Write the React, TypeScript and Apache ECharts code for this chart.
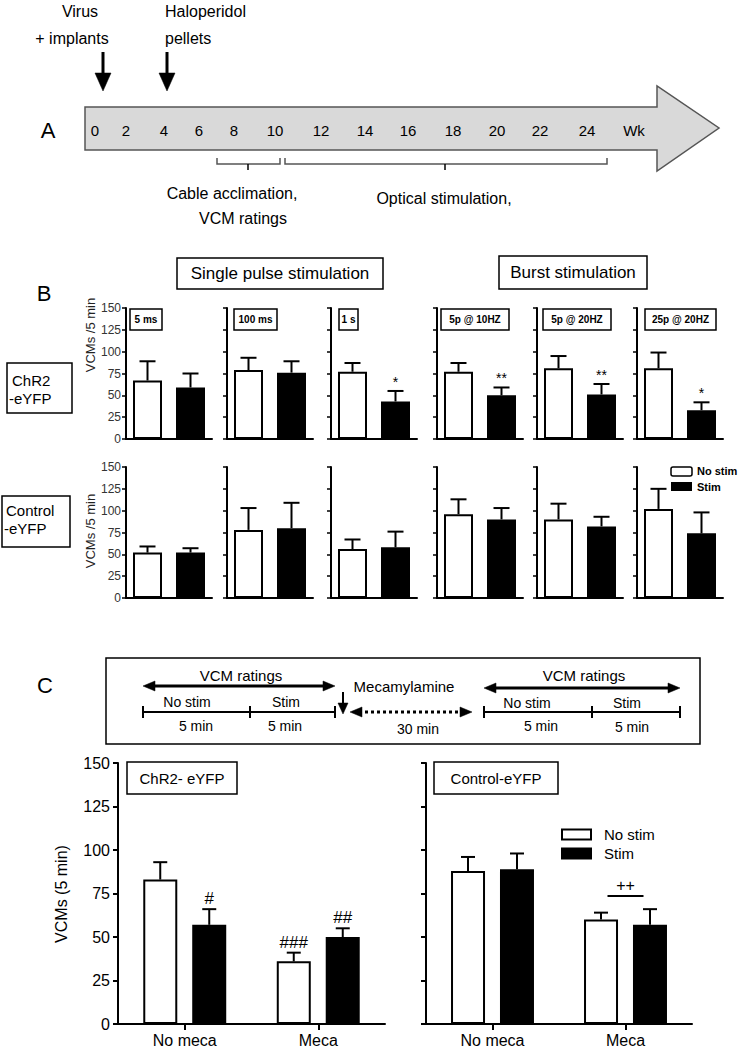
import React, { useEffect, useRef } from 'react';
import * as echarts from 'echarts';

const FONT = 'Arial, "Liberation Sans", sans-serif';

// ---------- Panel A: timeline ----------
const weekLabels = ['0', '2', '4', '6', '8', '10', '12', '14', '16', '18', '20', '22', '24', 'Wk'];
const weekLabelX = [95, 126, 164, 199, 234, 275, 321, 365, 408, 453, 497, 540, 587, 634];

// ---------- Panel B ----------
const stimCategories = ['No stim', 'Stim'];
const bPanelTitles = ['5 ms', '100 ms', '1 s', '5p @ 10HZ', '5p @ 20HZ', '25p @ 20HZ'];
const chr2Means = [[67, 59], [79, 76], [77, 43], [77, 50], [81, 51], [81, 33]];
const chr2Errs = [[22, 16], [14, 13], [10, 12], [10, 9], [14, 12], [18, 9]];
const chr2Sig = [['', ''], ['', ''], ['', '*'], ['', '**'], ['', '**'], ['', '*']];
const ctrlMeans = [[52, 52], [78, 80], [56, 58], [96, 90], [90, 82], [102, 74]];
const ctrlErrs = [[7, 5], [25, 29], [11, 18], [17, 13], [18, 11], [23, 24]];
const ctrlSig = [['', ''], ['', ''], ['', ''], ['', ''], ['', ''], ['', '']];
const yMin = 0;
const yMax = 150;
const yStep = 25;

// ---------- Panel C ----------
const mecaGroups = ['No meca', 'Meca'];
const cChr2NoStim = [83, 36];
const cChr2NoStimErr = [10, 5];
const cChr2NoStimSig = ['', '###'];
const cChr2Stim = [57, 50];
const cChr2StimErr = [9, 5];
const cChr2StimSig = ['#', '##'];
const cCtrlNoStim = [88, 60];
const cCtrlNoStimErr = [8, 4];
const cCtrlStim = [89, 57];
const cCtrlStimErr = [9, 9];
const cCtrlPairSig = '++';
const cCtrlPairSigLevel = 73.5;

// ---------- layout ----------
const bLefts = [126, 227, 331, 437, 537, 637];
const bTops = [308, 467];
const bW = 86;
const bH = 131;
const cGrids = [
  { left: 118, top: 763, width: 267, height: 261 },
  { left: 426, top: 763, width: 266, height: 261 },
];

function errRender(offset: number, cap: number, labels: string[], fontSize: number, lw: number) {
  return (params: any, api: any) => {
    const c = api.value(0);
    const v = api.value(1);
    const e = api.value(2);
    const base = api.coord([c, v]);
    const top = api.coord([c, v + e]);
    const x = base[0] + offset;
    const children: any[] = [
      { type: 'line', shape: { x1: x, y1: base[1], x2: x, y2: top[1] }, style: { stroke: '#000', lineWidth: lw } },
      { type: 'line', shape: { x1: x - cap / 2, y1: top[1], x2: x + cap / 2, y2: top[1] }, style: { stroke: '#000', lineWidth: lw } },
    ];
    const lab = labels[params.dataIndex];
    if (lab) {
      children.push({
        type: 'text', x, y: top[1] - 2,
        style: { text: lab, fill: '#000', fontSize, fontFamily: FONT, align: 'center', verticalAlign: 'bottom', textAlign: 'center', textVerticalAlign: 'bottom' },
      });
    }
    return { type: 'group', children };
  };
}

function txt(text: string, x: number, y: number, fontSize: number, align = 'center', extra: any = {}) {
  return {
    type: 'text', x, y, z: 100, ...extra,
    style: {
      text, fontSize, fontFamily: FONT, fill: '#000',
      align, verticalAlign: 'middle', textAlign: align, textVerticalAlign: 'middle',
      ...(extra.style || {}),
    },
  };
}

function box(x: number, y: number, w: number, h: number, lw = 1.5) {
  return { type: 'rect', z: 99, shape: { x, y, width: w, height: h }, style: { fill: '#fff', stroke: '#000', lineWidth: lw } };
}

function line(x1: number, y1: number, x2: number, y2: number, lw = 2, dash?: number[]) {
  return { type: 'line', z: 100, shape: { x1, y1, x2, y2 }, style: { stroke: '#000', lineWidth: lw, lineDash: dash } };
}

function poly(points: number[][], fill = '#000') {
  return { type: 'polygon', z: 100, shape: { points }, style: { fill, stroke: fill, lineWidth: 0.5 } };
}

function dblArrow(x1: number, x2: number, y: number, dashed = false) {
  return [
    line(x1 + 9, y, x2 - 9, y, 3, dashed ? [3, 3] : undefined),
    poly([[x1, y], [x1 + 12, y - 5], [x1 + 12, y + 5]]),
    poly([[x2, y], [x2 - 12, y - 5], [x2 - 12, y + 5]]),
  ];
}

function buildGraphics() {
  const g: any[] = [];
  // Panel A
  g.push(txt('A', 48, 130, 22));
  g.push({
    type: 'polygon', z: 10,
    shape: { points: [[85, 107], [657, 107], [657, 86], [719, 128], [657, 171], [657, 150], [85, 150]] },
    style: { fill: '#d9d9d9', stroke: '#555', lineWidth: 1.5 },
  });
  weekLabels.forEach((w, i) => g.push(txt(w, weekLabelX[i], 130, 15)));
  g.push(txt('Virus', 80, 11, 16));
  g.push(txt('+ implants', 72, 38, 16));
  g.push(txt('Haloperidol', 165, 11, 16, 'left'));
  g.push(txt('pellets', 165, 38, 16, 'left'));
  [103, 167].forEach((x) => {
    g.push(line(x, 52, x, 76, 3));
    g.push(poly([[x - 8, 73], [x + 8, 73], [x, 91]]));
  });
  g.push({ type: 'polyline', z: 100, shape: { points: [[217, 158], [217, 164], [280, 164], [280, 158]] }, style: { stroke: '#555', lineWidth: 1.5, fill: 'none' } });
  g.push(line(248, 164, 248, 170, 1.5));
  g.push({ type: 'polyline', z: 100, shape: { points: [[285, 158], [285, 164], [607, 164], [607, 158]] }, style: { stroke: '#555', lineWidth: 1.5, fill: 'none' } });
  g.push(line(445, 164, 445, 170, 1.5));
  g.push(txt('Cable acclimation,', 232, 193, 16));
  g.push(txt('VCM ratings', 243, 218, 16));
  g.push(txt('Optical stimulation,', 444, 198, 16));

  // Panel B
  g.push(txt('B', 44, 293, 22));
  g.push(box(177, 258, 206, 31));
  g.push(txt('Single pulse stimulation', 280, 273, 17));
  g.push(box(499, 256, 148, 33));
  g.push(txt('Burst stimulation', 573, 272, 17));
  g.push(box(7, 363, 65, 50));
  g.push(txt('ChR2', 12, 380, 15, 'left'));
  g.push(txt('-eYFP', 9, 398, 15, 'left'));
  g.push(box(2, 496, 68, 51));
  g.push(txt('Control', 6, 510, 15, 'left'));
  g.push(txt('-eYFP', 4, 528, 15, 'left'));
  g.push(txt('VCMs /5 min', 90, 335, 13, 'center', { rotation: Math.PI / 2, style: { fill: '#222' } }));
  g.push(txt('VCMs /5 min', 90, 531, 13, 'center', { rotation: Math.PI / 2, style: { fill: '#222' } }));
  const pBoxes = [[130, 32], [234, 43], [339, 19], [441, 68], [543, 68], [645, 71]];
  pBoxes.forEach(([x, w], i) => {
    g.push(box(x, 309, w, 21, 1.5));
    g.push(txt(bPanelTitles[i], x + w / 2, 319.5, 10, 'center', { style: { fontWeight: 'bold' } }));
  });
  g.push({ type: 'rect', z: 100, shape: { x: 671, y: 467, width: 21, height: 9, r: 2 }, style: { fill: '#fff', stroke: '#000', lineWidth: 1.5 } });
  g.push({ type: 'rect', z: 100, shape: { x: 671, y: 482, width: 21, height: 9 }, style: { fill: '#000' } });
  g.push(txt(stimCategories[0], 697, 471, 11, 'left', { style: { fontWeight: 'bold' } }));
  g.push(txt(stimCategories[1], 697, 487, 11, 'left', { style: { fontWeight: 'bold' } }));

  // Panel C header
  g.push(txt('C', 45, 685, 22));
  g.push({ type: 'rect', z: 5, shape: { x: 106, y: 658, width: 594, height: 86 }, style: { fill: 'none', stroke: '#000', lineWidth: 1.5 } });
  g.push(txt('VCM ratings', 241, 675, 15));
  g.push(...dblArrow(143, 335, 686));
  g.push(txt('Mecamylamine', 404, 686, 15));
  g.push(txt('VCM ratings', 584, 675, 15));
  g.push(...dblArrow(484, 680, 688));
  // left timeline
  g.push(line(143, 712, 335, 712, 2));
  [143, 250, 335].forEach((x) => g.push(line(x, 706, x, 718, 2)));
  g.push(txt('No stim', 187, 702, 14));
  g.push(txt('Stim', 286, 702, 14));
  g.push(txt('5 min', 196, 726, 14));
  g.push(txt('5 min', 285, 726, 14));
  // down arrow + dashed
  g.push(line(343, 692, 343, 705, 2));
  g.push(poly([[338, 703], [348, 703], [343, 714]]));
  g.push(...dblArrow(350, 472, 712, true));
  g.push(txt('30 min', 418, 729, 14));
  // right timeline
  g.push(line(484, 712, 680, 712, 2));
  [484, 592, 680].forEach((x) => g.push(line(x, 706, x, 718, 2)));
  g.push(txt('No stim', 527, 703, 14));
  g.push(txt('Stim', 627, 703, 14));
  g.push(txt('5 min', 541, 726, 14));
  g.push(txt('5 min', 632, 727, 14));

  // C inner boxes
  g.push(box(127, 762, 110, 32));
  g.push(txt('ChR2- eYFP', 182, 778, 15));
  g.push(box(434, 762, 124, 32));
  g.push(txt('Control-eYFP', 496, 778, 15));
  g.push(txt('VCMs (5 min)', 61, 894, 16, 'center', { rotation: Math.PI / 2 }));
  return g;
}

function buildOption() {
  const grid: any[] = [];
  const xAxis: any[] = [];
  const yAxis: any[] = [];
  const series: any[] = [];

  const rows = [
    { name: 'ChR2', means: chr2Means, errs: chr2Errs, sig: chr2Sig },
    { name: 'Control', means: ctrlMeans, errs: ctrlErrs, sig: ctrlSig },
  ];
  rows.forEach((row, r) => {
    bLefts.forEach((left, c) => {
      const gi = grid.length;
      grid.push({ left, top: bTops[r], width: bW, height: bH });
      xAxis.push({
        gridIndex: gi, type: 'category', data: stimCategories,
        axisLine: { lineStyle: { color: '#000', width: 2 } },
        axisTick: { show: false }, axisLabel: { show: false },
      });
      yAxis.push({
        gridIndex: gi, type: 'value', min: yMin, max: yMax, interval: yStep,
        axisLine: { show: true, lineStyle: { color: '#000', width: 2 } },
        axisTick: { show: true, length: 4, lineStyle: { color: '#000', width: 1.5 } },
        axisLabel: { show: c === 0, fontSize: 12, color: '#333', margin: 5, fontFamily: FONT },
        splitLine: { show: false },
      });
      series.push({
        type: 'bar', name: `${row.name} ${bPanelTitles[c]}`, xAxisIndex: gi, yAxisIndex: gi, barWidth: 29,
        data: row.means[c].map((v, i) => ({
          value: v,
          itemStyle: { color: i === 0 ? '#fff' : '#000', borderColor: '#000', borderWidth: 2 },
        })),
      });
      series.push({
        type: 'custom', name: `${row.name} ${bPanelTitles[c]} err`, xAxisIndex: gi, yAxisIndex: gi, clip: false, z: 5,
        encode: { x: 0, y: 1 }, itemStyle: { color: '#000' },
        data: row.means[c].map((v, i) => [i, v, row.errs[c][i]]),
        renderItem: errRender(0, 16, row.sig[c], 14, 2),
      });
    });
  });

  const cRows = [
    { name: 'ChR2', ns: cChr2NoStim, nsE: cChr2NoStimErr, nsS: cChr2NoStimSig, s: cChr2Stim, sE: cChr2StimErr, sS: cChr2StimSig },
    { name: 'Control', ns: cCtrlNoStim, nsE: cCtrlNoStimErr, nsS: ['', ''], s: cCtrlStim, sE: cCtrlStimErr, sS: ['', ''] },
  ];
  cRows.forEach((row, k) => {
    const gi = grid.length;
    grid.push(cGrids[k]);
    xAxis.push({
      gridIndex: gi, type: 'category', data: mecaGroups,
      axisLine: { lineStyle: { color: '#000', width: 2 } },
      axisTick: { show: true, alignWithLabel: true, length: 6, lineStyle: { color: '#000', width: 2 } },
      axisLabel: { show: true, fontSize: 16, color: '#000', margin: 8, fontFamily: FONT },
    });
    yAxis.push({
      gridIndex: gi, type: 'value', min: yMin, max: yMax, interval: yStep,
      axisLine: { show: true, lineStyle: { color: '#000', width: 2 } },
      axisTick: { show: true, length: 5, lineStyle: { color: '#000', width: 2 } },
      axisLabel: { show: k === 0, fontSize: 16, color: '#000', margin: 8, fontFamily: FONT },
      splitLine: { show: false },
    });
    series.push({
      type: 'bar', name: stimCategories[0], xAxisIndex: gi, yAxisIndex: gi, barWidth: 34, barGap: '44%',
      itemStyle: { color: '#fff', borderColor: '#000', borderWidth: 2 },
      data: row.ns,
    });
    series.push({
      type: 'bar', name: stimCategories[1], xAxisIndex: gi, yAxisIndex: gi, barWidth: 34, barGap: '44%',
      itemStyle: { color: '#000', borderColor: '#000', borderWidth: 2 },
      data: row.s,
    });
    series.push({
      type: 'custom', name: `${row.name} C err ns`, xAxisIndex: gi, yAxisIndex: gi, clip: false, z: 5,
      encode: { x: 0, y: 1 }, itemStyle: { color: '#000' },
      data: row.ns.map((v, i) => [i, v, row.nsE[i]]),
      renderItem: errRender(-24.5, 14, row.nsS, 17, 2),
    });
    series.push({
      type: 'custom', name: `${row.name} C err s`, xAxisIndex: gi, yAxisIndex: gi, clip: false, z: 5,
      encode: { x: 0, y: 1 }, itemStyle: { color: '#000' },
      data: row.s.map((v, i) => [i, v, row.sE[i]]),
      renderItem: errRender(24.5, 14, row.sS, 17, 2),
    });
    if (k === 1) {
      series.push({
        type: 'custom', name: 'Control pair sig', xAxisIndex: gi, yAxisIndex: gi, clip: false, z: 5,
        encode: { x: 0, y: 1 }, itemStyle: { color: '#000' },
        data: [[1, cCtrlPairSigLevel]],
        renderItem: (params: any, api: any) => {
          const p = api.coord([api.value(0), api.value(1)]);
          return {
            type: 'group',
            children: [
              { type: 'line', shape: { x1: p[0] - 18, y1: p[1], x2: p[0] + 18, y2: p[1] }, style: { stroke: '#000', lineWidth: 2 } },
              { type: 'text', x: p[0], y: p[1] - 3, style: { text: cCtrlPairSig, fill: '#000', fontSize: 16, fontFamily: FONT, align: 'center', verticalAlign: 'bottom', textAlign: 'center', textVerticalAlign: 'bottom' } },
            ],
          };
        },
      });
    }
  });

  return {
    animation: false,
    backgroundColor: '#fff',
    color: ['#000'],
    textStyle: { fontFamily: FONT },
    grid, xAxis, yAxis, series,
    legend: {
      data: stimCategories, orient: 'vertical', left: 556, top: 822,
      itemWidth: 29, itemHeight: 10, itemGap: 4, icon: 'rect', selectedMode: false,
      textStyle: { fontSize: 15, color: '#000', fontFamily: FONT, padding: [0, 0, 0, 8] },
    },
    graphic: buildGraphics(),
  };
}

export default function App() {
  const ref = useRef<HTMLDivElement>(null);
  useEffect(() => {
    const chart = echarts.init(ref.current!, undefined, { renderer: 'svg', width: 743, height: 1050 });
    chart.setOption(buildOption() as any);
    return () => chart.dispose();
  }, []);
  return (
    <div
      ref={ref}
      style={{ position: 'absolute', left: 0, top: 0, width: 743, height: 1050, background: '#fff' }}
    />
  );
}
